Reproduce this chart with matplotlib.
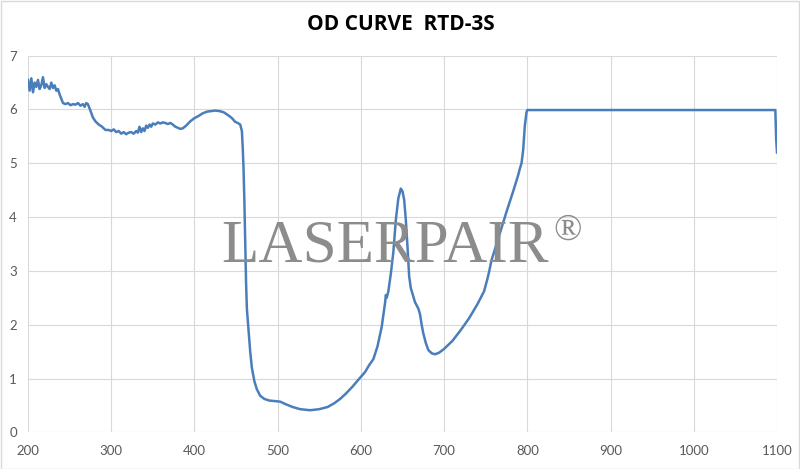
import matplotlib
matplotlib.use("Agg")
import matplotlib.pyplot as plt
from matplotlib.patches import Rectangle

title = "OD CURVE  RTD-3S"
watermark = "LASERPAIR"
watermark_mark = "®"

wavelength = [
    200, 202, 204, 206, 208, 210, 212, 214, 216, 218, 220, 222, 224, 226, 228,
    230, 232, 234, 236, 238, 240, 242, 245, 248, 251, 254, 257, 260, 263, 266,
    268, 270, 272, 275, 278, 281, 285, 289, 293, 297, 300, 303, 306, 309, 312,
    315, 318, 321, 324, 327, 330, 332, 334, 336, 338, 340, 342, 344, 346, 348,
    350, 353, 356, 359, 362, 365, 368, 371, 374, 377, 380, 383, 386, 390, 395,
    400, 405, 410, 415, 420, 425, 430, 435, 440, 445, 449, 452, 455, 457, 458,
    459, 460, 461, 462, 463, 465, 467, 469, 472, 475, 479, 484, 490, 497, 503,
    510, 518, 527, 539, 550, 560, 568, 575, 582, 590, 596, 600, 605, 610, 615,
    620, 625, 629, 630, 631, 633, 636, 639, 642, 645, 648, 650, 652, 654, 656,
    658, 660, 663, 665, 667, 669, 671, 673, 675, 678, 681, 685, 689, 694, 700,
    710, 720, 730, 740, 748, 752, 754, 757, 765, 775, 783, 789, 791, 793, 795,
    797, 799, 800, 850, 900, 950, 1000, 1050, 1097, 1098, 1099, 1100,
]
od = [
    6.55, 6.35, 6.58, 6.32, 6.50, 6.42, 6.55, 6.38, 6.45, 6.60, 6.40, 6.47, 6.42, 6.38, 6.50,
    6.40, 6.45, 6.35, 6.38, 6.28, 6.20, 6.12, 6.10, 6.12, 6.08, 6.10, 6.09, 6.12, 6.07, 6.10,
    6.05, 6.12, 6.10, 5.98, 5.85, 5.78, 5.72, 5.68, 5.62, 5.62, 5.60, 5.63, 5.58, 5.60, 5.55,
    5.58, 5.54, 5.57, 5.58, 5.55, 5.60, 5.57, 5.68, 5.58, 5.65, 5.60, 5.70, 5.66, 5.72, 5.68,
    5.74, 5.72, 5.76, 5.74, 5.76, 5.75, 5.73, 5.75, 5.72, 5.68, 5.66, 5.64, 5.65, 5.70, 5.78,
    5.84, 5.88, 5.93, 5.96, 5.97, 5.98, 5.97, 5.95, 5.90, 5.84, 5.77, 5.75, 5.72, 5.60, 5.30,
    4.90, 4.30, 3.50, 2.80, 2.30, 1.90, 1.50, 1.20, 0.95, 0.80, 0.68, 0.62, 0.59, 0.58, 0.57,
    0.52, 0.47, 0.43, 0.41, 0.43, 0.47, 0.54, 0.62, 0.72, 0.85, 0.96, 1.03, 1.12, 1.25, 1.36,
    1.60, 1.96, 2.40, 2.55, 2.50, 2.62, 2.95, 3.35, 3.95, 4.35, 4.53, 4.48, 4.32, 3.95, 3.45,
    2.90, 2.68, 2.52, 2.42, 2.36, 2.30, 2.20, 2.00, 1.84, 1.66, 1.53, 1.47, 1.45, 1.48, 1.55,
    1.70, 1.90, 2.12, 2.38, 2.62, 2.85, 2.98, 3.20, 3.60, 4.10, 4.48, 4.78, 4.90, 5.00, 5.25,
    5.70, 5.95, 5.99, 5.99, 5.99, 5.99, 5.99, 5.99, 5.99, 5.99, 5.45, 5.20,
]
x_ticks = [200, 300, 400, 500, 600, 700, 800, 900, 1000, 1100]
y_ticks = [0, 1, 2, 3, 4, 5, 6, 7]

W, H = 800, 469
fig = plt.figure(figsize=(W / 100, H / 100), dpi=100)
fig.patch.set_facecolor("white")
fig.patches.append(Rectangle((0.5 / W, 0.5 / H), 1 - 1.5 / W, 1 - 1.5 / H,
                             transform=fig.transFigure, fill=False,
                             edgecolor="#d9d9d9", linewidth=1.0))

ax = fig.add_axes([28 / W, 1 - 432.3 / H, 749 / W, (432.3 - 55.7) / H])
ax.set_xlim(200, 1100)
ax.set_ylim(0, 7)
ax.set_xticks(x_ticks)
ax.set_yticks(y_ticks)
ax.grid(True, color="#d9d9d9", linewidth=0.8)
ax.set_axisbelow(True)
for s in ax.spines.values():
    s.set_visible(False)
ax.tick_params(length=0, colors="#595959", labelsize=9.5, pad=9)
ax.tick_params(axis="y", pad=8)
for lab in ax.get_xticklabels() + ax.get_yticklabels():
    lab.set_fontfamily("Lato")

ax.plot(wavelength, od, color="#4a7ebb", linewidth=1.8, zorder=3,
        solid_joinstyle="round")

# watermark
fig.text(549 / W, 1 - 261.7 / H, watermark, fontsize=44,
         family="Liberation Serif", color="#8c8c8c", ha="right",
         va="baseline", zorder=2)
fig.text(553 / W, 1 - 240 / H, watermark_mark, fontsize=27,
         family="Liberation Serif", color="#8c8c8c", ha="left",
         va="baseline", zorder=2)

fig.text(401 / W, 1 - 25 / H, title, fontsize=15, fontweight="bold",
         family="Open Sans", ha="center", va="center", color="black")

fig.savefig("out.png", dpi=100)
